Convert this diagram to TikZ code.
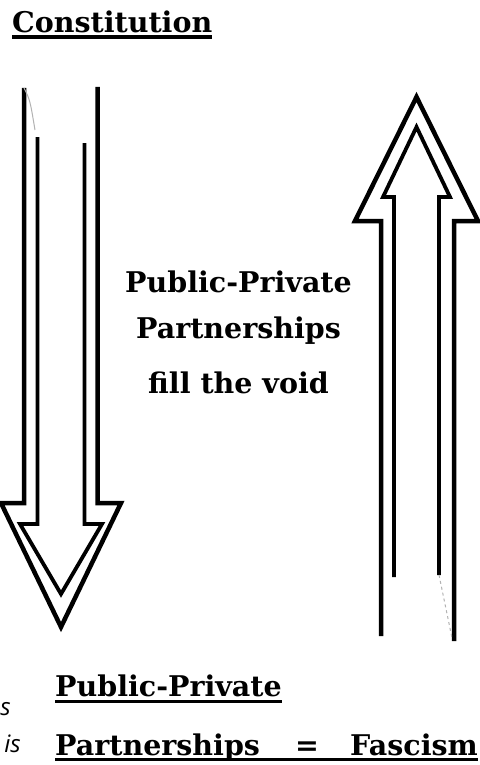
\documentclass[tikz,border=0pt]{standalone}
\usepackage{fontspec}
\newfontfamily\slabfont{DejaVu Serif}
\newfontfamily\sidefont{Open Sans}

\begin{document}
\begin{tikzpicture}[x=1pt,y=-1pt]
\useasboundingbox (0,0) rectangle (479,765);
  \begin{scope}[every node/.style={inner sep=0pt, font=\slabfont\bfseries\fontsize{28.5}{32}\selectfont}]
  \node[anchor=base west] (const) at (12,33) {Constitution};
  \node[anchor=base] (void1) at (238.5,292) {Public-Private};
  \node[anchor=base] (void2) at (238.5,338) {Partnerships};
  \node[anchor=base] (void3) at (238.5,393) {fill the void};
  \node[anchor=base west] (ppp) at (55,696) {Public-Private};
  \node[anchor=base west] (part) at (55,755) {Partnerships};
  \node[anchor=base] (eq) at (307,755) {=};
  \node[anchor=base east] (fasc) at (478,755) {Fascism};
 \end{scope}
  \begin{scope}[every node/.style={inner sep=0pt, font=\sidefont\itshape\fontsize{24}{28}\selectfont}]
  \node[anchor=base east] (s) at (11,715) {s};
  \node[anchor=base east] (is) at (21,752) {is};
 \end{scope}
  % underlines
  \draw[line width=4pt] ([yshift=-4.5pt]const.base west) -- ([yshift=-4.5pt]const.base east);
  \draw[line width=3pt] ([yshift=-5pt]ppp.base west) -- ([yshift=-5pt]ppp.base east);
  \coordinate (uend) at (fasc.base east);
  \draw[line width=3pt] ([yshift=-4pt]part.base west) -- ([yshift=-4pt]uend);
  % down arrow
 \begin{scope}[line join=miter]
  \draw[line width=4.5pt] (24,88) -- (24,503) -- (1,503) -- (61,627) -- (121,503) -- (97.5,503) -- (97.5,87);
  \draw[line width=3.8pt] (37.5,137) -- (37.5,524) -- (20,524) -- (61,594) -- (102,524) -- (84.5,524) -- (84.5,143);
  \draw[black!30, line width=1pt] (24,88) .. controls (30,100) .. (35,130);
 \end{scope}
  % up arrow
 \begin{scope}[line join=miter]
  \draw[line width=4.5pt] (381,636) -- (381,221) -- (355,221) -- (416.5,97) -- (478,221) -- (454,221) -- (454,641);
  \draw[line width=3.8pt] (394,577) -- (394,197) -- (383,197) -- (416.5,127) -- (450,197) -- (439,197) -- (439,575);
  \draw[black!30, line width=1pt, dashed] (439,575) -- (452,638);
 \end{scope}
\end{tikzpicture}
\end{document}
